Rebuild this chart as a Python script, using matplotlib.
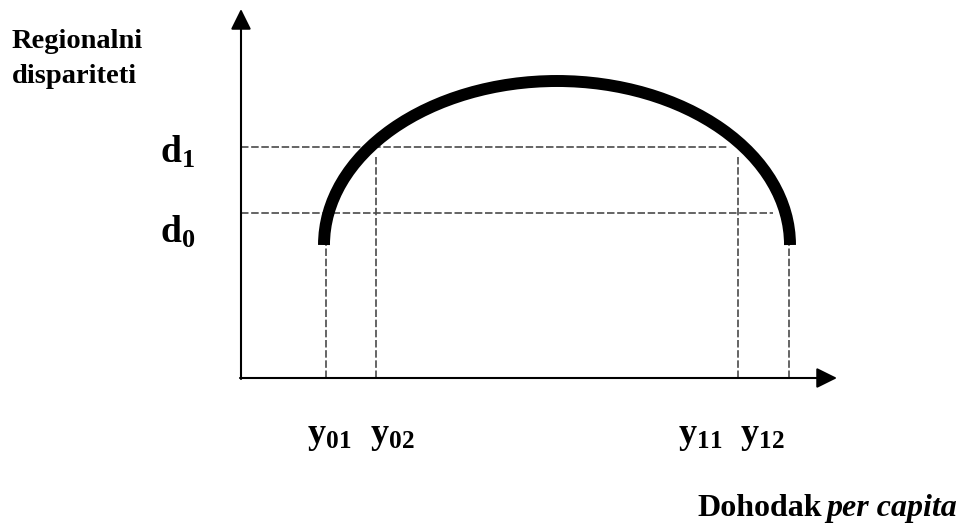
import matplotlib
matplotlib.use("Agg")
import matplotlib.pyplot as plt
from matplotlib.patches import Arc

plt.rcParams['font.family'] = ['Liberation Serif', 'DejaVu Serif']
plt.rcParams['mathtext.fontset'] = 'custom'
plt.rcParams['mathtext.rm'] = 'Liberation Serif'
plt.rcParams['mathtext.bf'] = 'Liberation Serif:bold'
plt.rcParams['mathtext.it'] = 'Liberation Serif:italic'

# ---- data (units: relative to origin) ----
income_labels = [r'$\mathbf{y}_{\mathbf{01}}$', r'$\mathbf{y}_{\mathbf{02}}$',
                 r'$\mathbf{y}_{\mathbf{11}}$', r'$\mathbf{y}_{\mathbf{12}}$']
income_values = [85, 135, 497, 548]          # x positions of y01, y02, y11, y12
income_tops = [133, 221, 221, 133]           # where the vertical guides meet the curve
disp_labels = [r'$\mathbf{d}_{\mathbf{0}}$', r'$\mathbf{d}_{\mathbf{1}}$']
disp_values = [165, 231]                     # d0, d1
disp_right = [532, 486]                      # where horizontal guides meet the curve
curve_center = (316, 133)
curve_width = 466
curve_height = 328
x_axis_end = 596
y_axis_end = 369

W, H = 957, 526
OX, OY = 241, 378   # origin in pixels

fig = plt.figure(figsize=(W / 100, H / 100), dpi=100)
ax = fig.add_axes([0, 0, 1, 1])
ax.set_xlim(-OX, W - OX)
ax.set_ylim(OY - H, OY)
ax.axis('off')

def fpos(px, py):
    return px / W, 1 - py / H

dash = (0, (4.5, 1.6))
gcol = '#4a4a4a'
# horizontal guides
for v, r in zip(disp_values, disp_right):
    ax.plot([0, r], [v, v], ls=dash, color=gcol, lw=1.2, zorder=2)
# vertical guides
for v, t in zip(income_values, income_tops):
    ax.plot([v, v], [0, t], ls=dash, color=gcol, lw=1.2, zorder=2)

# curve
arc = Arc(curve_center, curve_width, curve_height, theta1=0, theta2=180,
          lw=8.6, color='black', zorder=4, capstyle='butt')
ax.add_patch(arc)

# axes with arrows
arrow = dict(arrowstyle='-|>,head_length=1.25,head_width=0.62', color='black',
             lw=1.5, shrinkA=0, shrinkB=0, mutation_scale=10)
ax.annotate('', xy=(x_axis_end, 0), xytext=(-1, 0), arrowprops=arrow, zorder=5)
ax.annotate('', xy=(0, y_axis_end), xytext=(0, -1), arrowprops=arrow, zorder=5)

# labels
bold = dict(fontweight='bold', color='black')
fig.text(*fpos(12, 48), 'Regionalni', fontsize=20.5, va='baseline', ha='left', **bold)
fig.text(*fpos(12, 83), 'dispariteti', fontsize=20.5, va='baseline', ha='left', **bold)

dlab_pos = [(160, 243), (160, 163)]
for lab, (px, py) in zip(disp_labels, dlab_pos):
    fig.text(*fpos(px, py), lab, fontsize=27, va='baseline', ha='left')

ylab_pos = [(307, 443), (370, 443), (678, 443), (740, 443)]
for lab, (px, py) in zip(income_labels, ylab_pos):
    fig.text(*fpos(px, py), lab, fontsize=26, va='baseline', ha='left')

fig.text(*fpos(822, 516), 'Dohodak', fontsize=23, va='baseline', ha='right', **bold)
fig.text(*fpos(826, 516), 'per capita', fontsize=23, va='baseline', ha='left',
         fontweight='bold', fontstyle='italic')

fig.savefig('out.png', dpi=100)
